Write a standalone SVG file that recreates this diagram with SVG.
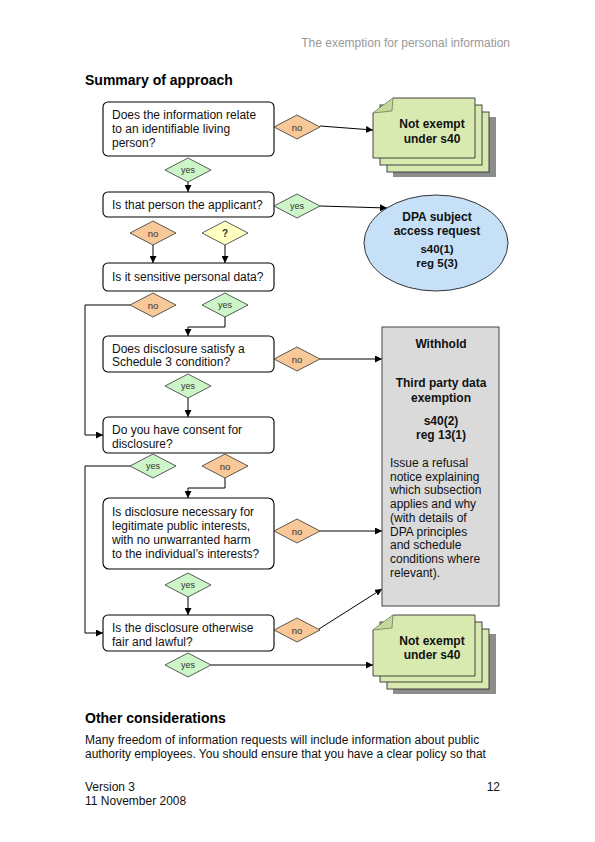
<svg xmlns="http://www.w3.org/2000/svg" xmlns:xlink="http://www.w3.org/1999/xlink" width="595" height="842" viewBox="0 0 595 842">
<style>
text{font-family:"Liberation Sans",Arial,sans-serif;}
.t{font-size:12px;fill:#111;}
.b{font-size:12px;font-weight:bold;fill:#111;text-anchor:middle;}
.h{font-size:14px;font-weight:bold;fill:#000;}
.box{fill:#fff;stroke:#000;stroke-width:1.1;}
.dno{fill:#f9c898;stroke:#333;stroke-width:0.8;}
.dyes{fill:#ccf5c8;stroke:#333;stroke-width:0.8;}
.dq{fill:#ffffc2;stroke:#333;stroke-width:0.8;}
.dl{font-size:9px;fill:#333;text-anchor:middle;}
.page{fill:#d8eab0;stroke:#333;stroke-width:0.9;}
.shadow{fill:#8c8c8c;}
.conn{fill:none;stroke:#000;stroke-width:1;}
</style>
<defs>
<marker id="arr" viewBox="0 0 10 10" refX="10" refY="5" markerWidth="7" markerHeight="7" markerUnits="userSpaceOnUse" orient="auto">
<path d="M0,0 L10,5 L0,10 Z" fill="#000"/>
</marker>
<path id="dia" d="M-23,0 L0,-12 L23,0 L0,12 Z"/>
</defs>
<rect width="595" height="842" fill="#fff"/>

<text x="510" y="47" style="font-size:12px;fill:#999;text-anchor:end">The exemption for personal information</text>
<text class="h" x="85" y="85">Summary of approach</text>

<g id="connectors">
<line class="conn" x1="188" y1="182" x2="188" y2="192" marker-end="url(#arr)"/>
<line class="conn" x1="320" y1="126" x2="373" y2="130" marker-end="url(#arr)"/>
<line class="conn" x1="320" y1="206" x2="387" y2="208" marker-end="url(#arr)"/>
<line class="conn" x1="153" y1="245" x2="153" y2="263" marker-end="url(#arr)"/>
<line class="conn" x1="225" y1="245" x2="225" y2="263" marker-end="url(#arr)"/>
<polyline class="conn" points="130,305 85,305 85,435 103,435" marker-end="url(#arr)"/>
<polyline class="conn" points="225,317 225,327 188,327 188,336" marker-end="url(#arr)"/>
<line class="conn" x1="320" y1="359" x2="382" y2="359" marker-end="url(#arr)"/>
<line class="conn" x1="188" y1="398" x2="188" y2="417" marker-end="url(#arr)"/>
<polyline class="conn" points="130,466 85,466 85,633 103,633" marker-end="url(#arr)"/>
<polyline class="conn" points="225,478 225,488 188,488 188,498" marker-end="url(#arr)"/>
<line class="conn" x1="320" y1="531" x2="382" y2="531" marker-end="url(#arr)"/>
<line class="conn" x1="188" y1="597" x2="188" y2="615" marker-end="url(#arr)"/>
<line class="conn" x1="319" y1="629" x2="382" y2="589" marker-end="url(#arr)"/>
<line class="conn" x1="211" y1="665" x2="373" y2="665" marker-end="url(#arr)"/>
</g>

<g id="q1">
<rect class="box" x="103" y="102" width="171" height="54" rx="5"/>
<text class="t" x="112" y="119">Does the information relate</text>
<text class="t" x="112" y="133">to an identifiable living</text>
<text class="t" x="112" y="147">person?</text>
</g>
<g id="q2">
<rect class="box" x="103" y="192" width="171" height="25" rx="5"/>
<text class="t" x="112" y="208.5">Is that person the applicant?</text>
</g>
<g id="q3">
<rect class="box" x="103" y="263" width="171" height="28" rx="5"/>
<text class="t" x="112" y="281">Is it sensitive personal data?</text>
</g>
<g id="q4">
<rect class="box" x="103" y="336" width="171" height="36" rx="5"/>
<text class="t" x="112" y="352.5">Does disclosure satisfy a</text>
<text class="t" x="112" y="366">Schedule 3 condition?</text>
</g>
<g id="q5">
<rect class="box" x="103" y="417" width="171" height="36" rx="5"/>
<text class="t" x="112" y="433.5">Do you have consent for</text>
<text class="t" x="112" y="447.5">disclosure?</text>
</g>
<g id="q6">
<rect class="box" x="103" y="498" width="171" height="71" rx="6"/>
<text class="t" x="112" y="516">Is disclosure necessary for</text>
<text class="t" x="112" y="530">legitimate public interests,</text>
<text class="t" x="112" y="544">with no unwarranted harm</text>
<text class="t" x="112" y="557.5">to the individual’s interests?</text>
</g>
<g id="q7">
<rect class="box" x="103" y="615" width="171" height="36" rx="5"/>
<text class="t" x="112" y="632">Is the disclosure otherwise</text>
<text class="t" x="112" y="646">fair and lawful?</text>
</g>

<g id="d1"><use xlink:href="#dia" x="297" y="127" class="dno"/><text class="dl" x="297" y="130.5" style="font-size:9.5px">no</text></g>
<g id="d2"><use xlink:href="#dia" x="188" y="170" class="dyes"/><text class="dl" x="188" y="173">yes</text></g>
<g id="d3"><use xlink:href="#dia" x="297" y="206" class="dyes"/><text class="dl" x="297" y="209">yes</text></g>
<g id="d4"><use xlink:href="#dia" x="153" y="233" class="dno"/><text class="dl" x="153" y="236.5" style="font-size:9.5px">no</text></g>
<g id="d5"><use xlink:href="#dia" x="225" y="233" class="dq"/><text class="dl" x="225" y="236.5" style="font-size:10px;font-weight:bold">?</text></g>
<g id="d6"><use xlink:href="#dia" x="153" y="305" class="dno"/><text class="dl" x="153" y="308.5" style="font-size:9.5px">no</text></g>
<g id="d7"><use xlink:href="#dia" x="225" y="305" class="dyes"/><text class="dl" x="225" y="308">yes</text></g>
<g id="d8"><use xlink:href="#dia" x="297" y="359" class="dno"/><text class="dl" x="297" y="362.5" style="font-size:9.5px">no</text></g>
<g id="d9"><use xlink:href="#dia" x="188" y="386" class="dyes"/><text class="dl" x="188" y="389">yes</text></g>
<g id="d10"><use xlink:href="#dia" x="153" y="466" class="dyes"/><text class="dl" x="153" y="469">yes</text></g>
<g id="d11"><use xlink:href="#dia" x="225" y="466" class="dno"/><text class="dl" x="225" y="469.5" style="font-size:9.5px">no</text></g>
<g id="d12"><use xlink:href="#dia" x="297" y="531" class="dno"/><text class="dl" x="297" y="534.5" style="font-size:9.5px">no</text></g>
<g id="d13"><use xlink:href="#dia" x="188" y="585" class="dyes"/><text class="dl" x="188" y="588">yes</text></g>
<g id="d14"><use xlink:href="#dia" x="297" y="630" class="dno"/><text class="dl" x="297" y="633.5" style="font-size:9.5px">no</text></g>
<g id="d15"><use xlink:href="#dia" x="188" y="665" class="dyes"/><text class="dl" x="188" y="668">yes</text></g>

<g id="notexempt1">
<rect class="shadow" x="393" y="117" width="103" height="60"/>
<rect class="page" x="387" y="112" width="102" height="60"/>
<rect class="page" x="380" y="105" width="102" height="60"/>
<path class="page" d="M373,113 L393,98 L475,98 L475,158 L373,158 Z"/>
<path d="M373,113 L392,111 L393,98" fill="#c4da96" stroke="#555" stroke-width="0.6"/>
<text class="b" x="432" y="128">Not exempt</text>
<text class="b" x="432" y="143">under s40</text>
</g>

<g id="dpa">
<ellipse cx="436" cy="243" rx="72" ry="48" fill="#c6e1f7" stroke="#333" stroke-width="1"/>
<text class="b" x="437" y="221">DPA subject</text>
<text class="b" x="437" y="234.5">access request</text>
<text class="b" x="437" y="253" style="font-size:11.5px">s40(1)</text>
<text class="b" x="437" y="266.5" style="font-size:11.5px">reg 5(3)</text>
</g>

<g id="withhold">
<rect x="382" y="327" width="117" height="279" fill="#dadada" stroke="#444" stroke-width="1"/>
<text class="b" x="441" y="348">Withhold</text>
<text class="b" x="441" y="387">Third party data</text>
<text class="b" x="441" y="402">exemption</text>
<text class="b" x="441" y="425">s40(2)</text>
<text class="b" x="441" y="439">reg 13(1)</text>
<text class="t" x="390" y="467">Issue a refusal</text>
<text class="t" x="390" y="480.7">notice explaining</text>
<text class="t" x="390" y="494.4">which subsection</text>
<text class="t" x="390" y="508.1">applies and why</text>
<text class="t" x="390" y="521.8">(with details of</text>
<text class="t" x="390" y="535.5">DPA principles</text>
<text class="t" x="390" y="549.2">and schedule</text>
<text class="t" x="390" y="562.9">conditions where</text>
<text class="t" x="390" y="576.6">relevant).</text>
</g>

<g id="notexempt2">
<rect class="shadow" x="393" y="634" width="103" height="60"/>
<rect class="page" x="387" y="629" width="102" height="60"/>
<rect class="page" x="380" y="622" width="102" height="60"/>
<path class="page" d="M373,630 L393,615 L475,615 L475,676 L373,676 Z"/>
<path d="M373,630 L392,628 L393,615" fill="#c4da96" stroke="#555" stroke-width="0.6"/>
<text class="b" x="432" y="645">Not exempt</text>
<text class="b" x="432" y="659">under s40</text>
</g>

<text class="h" x="85" y="723">Other considerations</text>
<text class="t" x="85" y="743.5">Many freedom of information requests will include information about public</text>
<text class="t" x="85" y="757.5">authority employees. You should ensure that you have a clear policy so that</text>
<text class="t" x="85" y="791">Version 3</text>
<text class="t" x="85" y="805">11 November 2008</text>
<text class="t" x="500" y="791" style="text-anchor:end">12</text>
</svg>
